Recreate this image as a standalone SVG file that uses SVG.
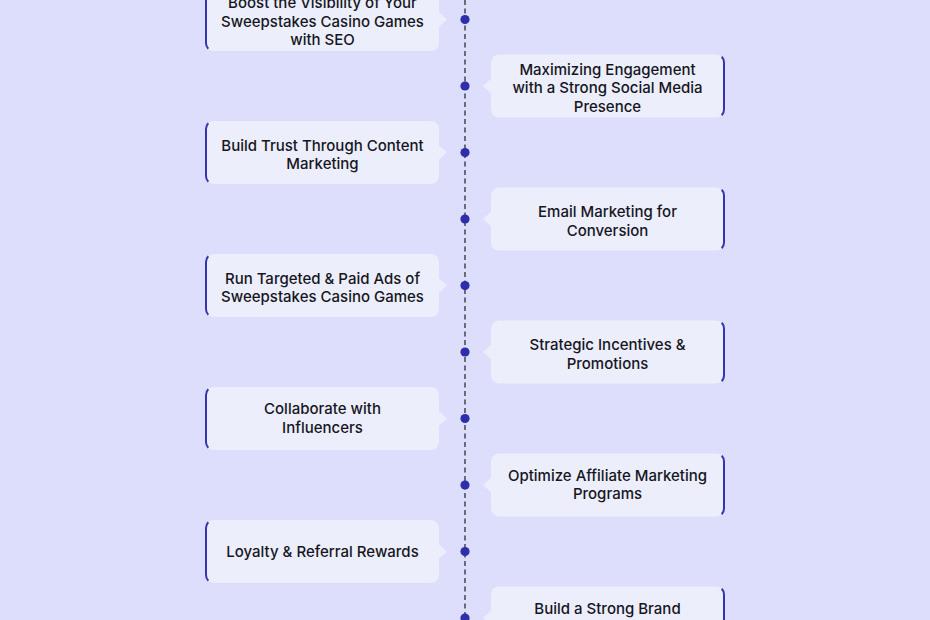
<svg xmlns="http://www.w3.org/2000/svg" width="930" height="620" viewBox="0 0 930 620">
<style>
.bg{fill:#dcdefb}
.box{fill:#eceefb}
.edge{fill:none;stroke:#3535b0;stroke-width:2}
.t{font-family:Inter,"Liberation Sans",sans-serif;font-size:15px;font-weight:500;fill:#16161e;text-anchor:middle}
.dot{fill:#2e2eab}
.axis{stroke:#4d4d5c;stroke-width:1.6;stroke-dasharray:5 3.5}
</style>
<defs>
<g id="L">
<rect x="206" y="0" width="233" height="63" rx="8" class="box"/>
<polygon points="438,23.5 447,31.5 438,39.5" class="box"/>
<path d="M208.3,2.3 A8,8 0 0 0 206,8 L206,55 A8,8 0 0 0 208.3,60.7" class="edge"/>
</g>
<g id="R">
<rect x="491" y="0" width="233" height="63" rx="8" class="box"/>
<polygon points="492,23.5 483,31.5 492,39.5" class="box"/>
<path d="M721.7,2.3 A8,8 0 0 1 724,8 L724,55 A8,8 0 0 1 721.7,60.7" class="edge"/>
</g>
</defs>
<rect class="bg" x="0" y="0" width="930" height="620"/>
<g id="connectors">
<line x1="465" y1="0" x2="465" y2="620" class="axis"/>
</g>
<g id="n1"><use href="#L" y="-12"/><text class="t"><tspan x="322.5" y="8">Boost the Visibility of Your</tspan><tspan x="322.5" y="26.5">Sweepstakes Casino Games</tspan><tspan x="322.5" y="45">with SEO</tspan></text><circle class="dot" cx="465" cy="19.5" r="4.6"/></g>
<g id="n2"><use href="#R" y="54.5"/><text class="t"><tspan x="607.5" y="74.5">Maximizing Engagement</tspan><tspan x="607.5" y="93">with a Strong Social Media</tspan><tspan x="607.5" y="111.5">Presence</tspan></text><circle class="dot" cx="465" cy="86" r="4.6"/></g>
<g id="n3"><use href="#L" y="121"/><text class="t"><tspan x="322.5" y="150.5">Build Trust Through Content</tspan><tspan x="322.5" y="169">Marketing</tspan></text><circle class="dot" cx="465" cy="152.5" r="4.6"/></g>
<g id="n4"><use href="#R" y="187.5"/><text class="t"><tspan x="607.5" y="217">Email Marketing for</tspan><tspan x="607.5" y="235.5">Conversion</tspan></text><circle class="dot" cx="465" cy="219" r="4.6"/></g>
<g id="n5"><use href="#L" y="254"/><text class="t"><tspan x="322.5" y="283.5">Run Targeted &amp; Paid Ads of</tspan><tspan x="322.5" y="302">Sweepstakes Casino Games</tspan></text><circle class="dot" cx="465" cy="285.5" r="4.6"/></g>
<g id="n6"><use href="#R" y="320.5"/><text class="t"><tspan x="607.5" y="350">Strategic Incentives &amp;</tspan><tspan x="607.5" y="368.5">Promotions</tspan></text><circle class="dot" cx="465" cy="352" r="4.6"/></g>
<g id="n7"><use href="#L" y="387"/><text class="t"><tspan x="322.5" y="414">Collaborate with</tspan><tspan x="322.5" y="432.5">Influencers</tspan></text><circle class="dot" cx="465" cy="418.5" r="4.6"/></g>
<g id="n8"><use href="#R" y="453.5"/><text class="t"><tspan x="607.5" y="480.5">Optimize Affiliate Marketing</tspan><tspan x="607.5" y="499">Programs</tspan></text><circle class="dot" cx="465" cy="485" r="4.6"/></g>
<g id="n9"><use href="#L" y="520"/><text class="t" x="322.5" y="556.5">Loyalty &amp; Referral Rewards</text><circle class="dot" cx="465" cy="551.5" r="4.6"/></g>
<g id="n10"><use href="#R" y="586.5"/><text class="t"><tspan x="607.5" y="614">Build a Strong Brand</tspan></text><circle class="dot" cx="465" cy="618" r="4.6"/></g>
</svg>
